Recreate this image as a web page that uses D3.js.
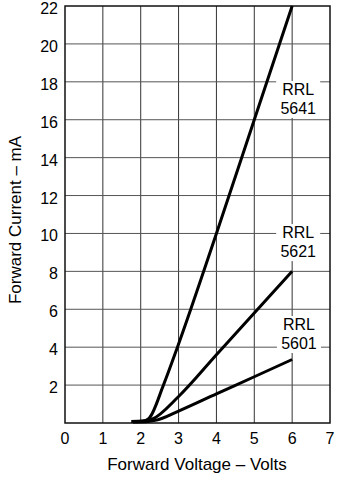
<!DOCTYPE html>
<html>
<head>
<meta charset="utf-8">
<script src="https://cdn.jsdelivr.net/npm/d3@7"></script>
<style>
  body { margin: 0; background: #fff; }
  svg { display: block; font-family: "Liberation Sans", Arial, sans-serif; }
</style>
</head>
<body>
<div id="chart"><svg width="338" height="480"></svg></div>
<script>
// Data
let xTicks = [0, 1, 2, 3, 4, 5, 6, 7];
let yTicks = [2, 4, 6, 8, 10, 12, 14, 16, 18, 20, 22];

let rrl5641 = [[1.75, 0.08], [2.05, 0.1], [2.22, 0.25], [2.6, 2], [2.97, 4], [4, 10], [5, 16], [6, 22]];
let rrl5621 = [[1.8, 0.06], [2.1, 0.1], [2.3, 0.2], [3, 1.4], [4, 3.6], [5, 5.8], [6, 8]];
let rrl5601 = [[1.8, 0.05], [2.2, 0.08], [2.42, 0.15], [3, 0.63], [4, 1.54], [5, 2.44], [6, 3.35]];

let seriesNames = ["RRL 5641", "RRL 5621", "RRL 5601"];
let seriesData = [rrl5641, rrl5621, rrl5601];
// label anchor (data coords)
let labelPos = [[6.16, 17.57], [6.16, 10.02], [6.18, 5.17]];

let svg = d3.select("div#chart svg"),
  margin = { top: 6, right: 8, bottom: 57, left: 65 },
  width = 330 - margin.left,
  height = 423 - margin.top,
  g = svg.append("g").attr("transform", "translate(" + margin.left + "," + margin.top + ")");

let x = d3.scaleLinear().domain([0, 7]).range([0, width]);
let y = d3.scaleLinear().domain([0, 22]).range([height, 0]);

// Grid
g.append("g")
  .selectAll("line")
  .data(xTicks.slice(1, -1))
  .enter().append("line")
    .attr("x1", d => x(d)).attr("x2", d => x(d))
    .attr("y1", 0).attr("y2", height)
    .attr("stroke", "#333").attr("stroke-width", 1);

g.append("g")
  .selectAll("line")
  .data(yTicks.slice(0, -1))
  .enter().append("line")
    .attr("x1", 0).attr("x2", width)
    .attr("y1", d => y(d)).attr("y2", d => y(d))
    .attr("stroke", "#555").attr("stroke-width", 1);

// Labels with white backing
seriesNames.forEach((name, i) => {
  let parts = name.split(" ");
  let lx = x(labelPos[i][0]), ly = y(labelPos[i][1]);
  g.append("rect")
    .attr("x", lx - 22).attr("y", ly - 9)
    .attr("width", 44).attr("height", 37)
    .attr("fill", "#fff");
  g.append("text")
    .attr("x", lx).attr("y", ly + 5)
    .attr("text-anchor", "middle")
    .style("font-size", "16px")
    .text(parts[0]);
  g.append("text")
    .attr("x", lx).attr("y", ly + 24)
    .attr("text-anchor", "middle")
    .style("font-size", "16px")
    .text(parts[1]);
});

// Frame
g.append("rect")
  .attr("width", width).attr("height", height)
  .attr("fill", "none").attr("stroke", "#111").attr("stroke-width", 1.5);

// Axes (labels only)
g.append("g")
  .selectAll("text")
  .data(xTicks)
  .enter().append("text")
    .attr("x", d => x(d)).attr("y", height + 21)
    .attr("text-anchor", "middle")
    .style("font-size", "16px")
    .text(d => d);

g.append("g")
  .selectAll("text")
  .data(yTicks)
  .enter().append("text")
    .attr("x", -7).attr("y", d => y(d) + 8)
    .attr("text-anchor", "end")
    .style("font-size", "16px")
    .text(d => d);

// Curves
let line = d3.line()
  .x(d => x(d[0]))
  .y(d => y(d[1]))
  .curve(d3.curveMonotoneX);

g.selectAll("path.curve")
  .data(seriesData)
  .enter().append("path")
    .attr("class", "curve")
    .attr("d", line)
    .attr("fill", "none")
    .attr("stroke", "#000")
    .attr("stroke-width", 3)
    .attr("stroke-linecap", "butt");

// Axis titles
g.append("text")
  .attr("x", 197 - margin.left).attr("y", 470 - margin.top)
  .attr("text-anchor", "middle")
  .style("font-size", "17px")
  .text("Forward Voltage – Volts");

g.append("text")
  .attr("transform", "rotate(-90)")
  .attr("x", -(220 - margin.top)).attr("y", 21 - margin.left)
  .attr("text-anchor", "middle")
  .style("font-size", "17px")
  .text("Forward Current – mA");
</script>
</body>
</html>
